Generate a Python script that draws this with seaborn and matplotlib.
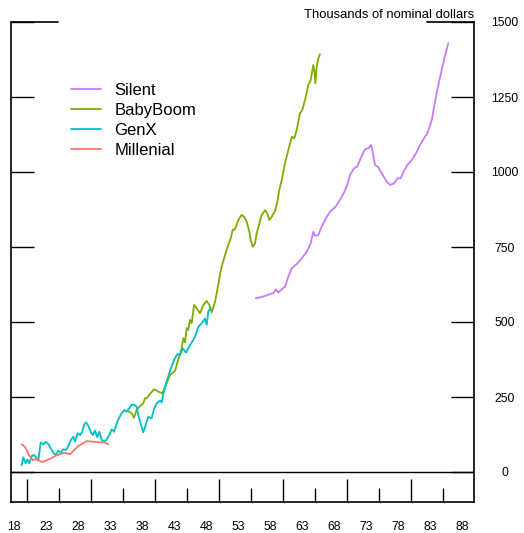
import pandas as pd
import matplotlib
matplotlib.use("Agg")
import matplotlib.pyplot as plt
import seaborn as sns

# wealth per household by age of the generation (thousands of nominal dollars)
silent_age = [55.77, 56.44, 57.22, 58.0, 58.52, 58.89, 59.3, 59.83, 60.34, 60.86, 61.39, 62.17,
              62.95, 63.73, 64.36, 64.77, 65.03, 65.55, 66.08, 66.75, 67.38, 68.16, 68.94, 69.56,
              70.08, 70.5, 71.13, 71.64, 72.17, 72.84, 73.36, 73.78, 73.98, 74.41, 74.92, 75.61,
              76.23, 76.75, 77.38, 77.89, 78.42, 78.94, 79.45, 80.14, 80.81, 81.44, 82.06, 82.58,
              83.0, 83.27, 83.42, 83.78, 84.3, 84.83, 85.36, 85.86]
silent_val = [579, 582, 587, 593, 596, 609, 598, 609, 618, 651, 679, 693,
              712, 734, 762, 801, 787, 790, 818, 846, 868, 882, 907, 931,
              957, 990, 1012, 1018, 1046, 1076, 1079, 1090, 1073, 1023, 1016, 990,
              968, 957, 962, 979, 979, 1004, 1023, 1040, 1062, 1090, 1112, 1129,
              1155, 1173, 1190, 1234, 1290, 1340, 1390, 1429]

boom_age = [35.77, 36.4, 36.75, 37.17, 37.69, 38.2, 38.47, 38.73, 39.25, 39.88, 40.55, 41.17,
            41.86, 42.38, 43.16, 43.67, 44.2, 44.45, 44.72, 44.98, 45.23, 45.5, 45.77, 46.13,
            46.55, 47.06, 47.58, 48.11, 48.52, 48.89, 49.41, 49.77, 50.19, 50.45, 50.97, 51.48,
            51.86, 52.17, 52.53, 53.05, 53.58, 53.94, 54.36, 54.77, 54.98, 55.3, 55.66, 55.92,
            56.28, 56.7, 57.22, 57.58, 57.89, 58.27, 58.78, 59.14, 59.45, 59.83, 60.34, 60.86,
            61.39, 61.8, 62.17, 62.69, 63.05, 63.47, 63.98, 64.36, 64.77, 64.92, 65.08, 65.3,
            65.55, 65.81]
boom_val = [203, 196, 181, 207, 220, 229, 246, 246, 260, 276, 268, 262,
            296, 323, 337, 376, 412, 446, 432, 480, 473, 507, 496, 557,
            546, 529, 557, 570, 557, 532, 567, 607, 660, 684, 723, 757,
            779, 807, 809, 840, 857, 851, 834, 801, 773, 751, 762, 796,
            823, 857, 873, 862, 840, 851, 870, 900, 940, 973, 1029, 1073,
            1118, 1112, 1140, 1196, 1207, 1240, 1290, 1307, 1357, 1340, 1296, 1351,
            1379, 1393]

genx_age = [19.2, 19.45, 19.83, 20.08, 20.39, 20.77, 21.13, 21.55, 21.8, 22.17, 22.58, 22.95,
            23.36, 23.73, 24.14, 24.5, 24.92, 25.3, 25.7, 26.13, 26.48, 26.9, 27.27, 27.53,
            27.95, 28.31, 28.67, 28.94, 29.25, 29.61, 29.98, 30.3, 30.66, 31.02, 31.33, 31.7,
            32.06, 32.48, 32.89, 33.27, 33.63, 34.05, 34.45, 34.83, 35.23, 35.61, 35.97, 36.3,
            36.64, 37.17, 37.42, 37.8, 38.2, 38.6, 38.98, 39.5, 39.9, 40.3, 40.81, 41.08,
            41.33, 41.6, 42.1, 42.5, 43.0, 43.52, 43.94, 44.36, 44.88, 45.5, 46.0, 46.28,
            46.8, 47.33, 47.84, 48.11, 48.36, 48.73]
genx_val = [23, 49, 29, 42, 29, 53, 57, 46, 38, 98, 92, 101,
            93, 79, 64, 57, 71, 64, 76, 73, 87, 107, 118, 101,
            129, 123, 134, 157, 166, 153, 134, 123, 138, 116, 134, 107,
            101, 109, 123, 142, 134, 162, 182, 196, 207, 201, 212, 222,
            226, 218, 190, 160, 132, 158, 184, 179, 212, 229, 238, 232,
            260, 284, 318, 345, 373, 393, 390, 412, 398, 423, 440, 451,
            484, 496, 512, 490, 535, 546]

mill_age = [19.2, 19.72, 20.08, 20.5, 20.92, 21.55, 22.33, 22.84, 23.63, 24.41, 25.19, 25.97,
            26.75, 27.53, 28.31, 29.36, 30.39, 31.44, 32.22, 32.73]
mill_val = [92, 84, 68, 51, 40, 43, 33, 37, 44, 53, 60, 64,
            59, 76, 90, 103, 101, 99, 98, 92]

generations = ["Silent", "BabyBoom", "GenX", "Millenial"]
colors = {"Silent": "#C77CFF", "BabyBoom": "#7CAE00", "GenX": "#00BFC4", "Millenial": "#F8766D"}

y_ticks = [0, 250, 500, 750, 1000, 1250, 1500]
x_major = [20, 30, 40, 50, 60, 70, 80]
x_minor = [25, 35, 45, 55, 65, 75, 85]
x_labels = [18, 23, 28, 33, 38, 43, 48, 53, 58, 63, 68, 73, 78, 83, 88]

frames = []
for name, ages, vals in [("Silent", silent_age, silent_val),
                         ("BabyBoom", boom_age, boom_val),
                         ("GenX", genx_age, genx_val),
                         ("Millenial", mill_age, mill_val)]:
    frames.append(pd.DataFrame({"age": ages, "value": vals, "gen": name}))
df = pd.concat(frames, ignore_index=True)

sns.set_style("white")
plt.rcParams["font.family"] = ["Liberation Sans", "DejaVu Sans"]
plt.rcParams["text.color"] = "black"
plt.rcParams["xtick.color"] = "black"
plt.rcParams["ytick.color"] = "black"
plt.rcParams["axes.labelcolor"] = "black"

W, H = 524, 533
fig = plt.figure(figsize=(W / 100, H / 100), dpi=100)
ax = fig.add_axes([11 / W, 1 - 502 / H, 463 / W, 480 / H])

sns.lineplot(data=df, x="age", y="value", hue="gen", hue_order=generations,
             palette=colors, errorbar=None, sort=False, linewidth=1.3, ax=ax)

ax.set_xlim(17.53, 89.875)
ax.set_ylim(-100, 1500)
ax.axhline(0, color="black", linewidth=1.0)
# longer marks at the top of the frame
ax.axhline(1500, xmin=0, xmax=47 / 463, color="black", linewidth=1.2, clip_on=False)
ax.axhline(1500, xmin=1 - 47 / 463, xmax=1, color="black", linewidth=1.2, clip_on=False)

for side in ["left", "right", "bottom"]:
    ax.spines[side].set_color("black")
    ax.spines[side].set_linewidth(1.2)
ax.spines["top"].set_visible(False)

ax.set_xticks(x_major)
ax.set_xticks(x_minor, minor=True)
ax.tick_params(axis="x", which="major", direction="in", length=16.6, width=1,
               color="black", bottom=True, labelbottom=False)
ax.tick_params(axis="x", which="minor", direction="in", length=10, width=1,
               color="black", bottom=True, labelbottom=False)

ax.set_yticks(y_ticks)
ax.tick_params(axis="y", which="major", direction="in", length=16.6, width=1, color="black",
               left=True, right=True, labelleft=False, labelright=True,
               labelsize=8.8, labelcolor="black", pad=22.3)
for t in ax.yaxis.get_major_ticks():
    t.label2.set_horizontalalignment("center")

secax = ax.secondary_xaxis("bottom")
secax.set_xticks(x_labels)
secax.set_xticklabels([str(v) for v in x_labels])
secax.tick_params(length=0, pad=14, labelsize=8.8, labelcolor="black")
secax.spines["bottom"].set_visible(False)

ax.set_xlabel("")
ax.set_ylabel("")
ax.text(1.0, 1 + 4 / 480, "Thousands of nominal dollars", transform=ax.transAxes,
        ha="right", va="baseline", fontsize=9.4, color="black")

handles, labels = ax.get_legend_handles_labels()
leg = ax.legend(handles, labels, loc="upper left", bbox_to_anchor=(71 / W, 1 - 83 / H),
                bbox_transform=fig.transFigure, frameon=False, fontsize=12,
                handlelength=1.8, handletextpad=0.8, labelspacing=0.3,
                borderpad=0, borderaxespad=0)
for txt in leg.get_texts():
    txt.set_color("black")

fig.savefig("out.png", dpi=100)
